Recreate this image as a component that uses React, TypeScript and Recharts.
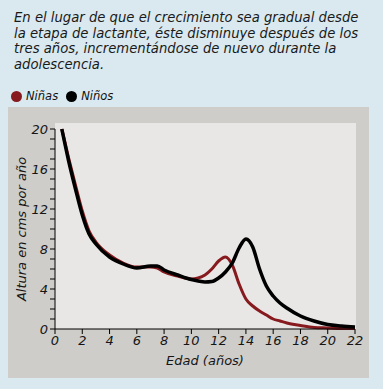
import { CartesianGrid, Line, LineChart, XAxis, YAxis } from "recharts"

const ages = [0.5, 1, 1.5, 2, 2.5, 3, 4, 5, 6, 7, 7.5, 8, 9, 10, 10.5, 11, 11.5, 12, 12.5, 13, 13.5, 14, 14.5, 15, 15.5, 16, 16.5, 17, 18, 19, 20, 21, 22]

const boys = [20, 16.8, 14.0, 11.4, 9.5, 8.5, 7.2, 6.5, 6.1, 6.3, 6.3, 5.9, 5.4, 4.95, 4.8, 4.7, 4.75, 5.1, 5.7, 6.6, 8.1, 9.0, 8.2, 6.0, 4.3, 3.3, 2.6, 2.1, 1.3, 0.8, 0.45, 0.3, 0.2]

const girls = [20, 17.1, 14.4, 11.8, 9.8, 8.7, 7.4, 6.6, 6.2, 6.2, 6.1, 5.7, 5.3, 5.0, 5.1, 5.4, 6.0, 6.8, 7.2, 6.4, 4.5, 3.0, 2.3, 1.8, 1.4, 1.0, 0.8, 0.6, 0.35, 0.15, 0.1, 0.05, 0.05]

const xTicks = [0, 2, 4, 6, 8, 10, 12, 14, 16, 18, 20, 22]
const yTicks = [0, 1, 2, 3, 4, 5, 6, 7, 8, 9, 10, 11, 12, 13, 14, 15, 16, 17, 18, 19, 20]

const data = ages.map((age, i) => ({ age, boys: boys[i], girls: girls[i] }))

const font = "'DejaVu Sans', Verdana, sans-serif"
const red = "#861a1e"

const YTick = (props: any) => {
  const { x, y, payload } = props
  if (payload.value % 4 !== 0) return <g />
  return (
    <text x={x} y={y} dy={5} textAnchor="end" fontSize={13} fontStyle="italic" fontFamily={font} fill="#151515">
      {payload.value}
    </text>
  )
}

export default function App() {
  return (
    <div style={{ position: "absolute", left: 0, top: 0, width: 383, height: 389, background: "#d9e9ef", overflow: "hidden" }}>
      <div
        style={{
          position: "absolute",
          left: 14,
          top: 10,
          width: 352,
          fontFamily: font,
          fontStyle: "italic",
          fontSize: 13.2,
          lineHeight: "15.5px",
          color: "#1a1a1a",
        }}
      >
        En el lugar de que el crecimiento sea gradual desde la etapa de lactante, éste disminuye después de los tres años, incrementándose de nuevo durante la adolescencia.
      </div>

      <div style={{ position: "absolute", left: 11, top: 89, display: "flex", alignItems: "center", fontFamily: font, fontStyle: "italic", fontSize: 11.5, color: "#111" }}>
        <span style={{ width: 11, height: 11, borderRadius: "50%", background: red, display: "inline-block", marginRight: 4 }} />
        <span style={{ marginRight: 8 }}>Niñas</span>
        <span style={{ width: 11, height: 11, borderRadius: "50%", background: "#000", display: "inline-block", marginRight: 4 }} />
        <span>Niños</span>
      </div>

      <div style={{ position: "absolute", left: 8, top: 107, width: 361, height: 271, background: "#cfcdc9" }} />
      <div style={{ position: "absolute", left: 55, top: 123, width: 301, height: 206, background: "#e9e7e5" }} />

      <div style={{ position: "absolute", left: 8, top: 107 }}>
        <LineChart width={361} height={271} data={data} margin={{ top: 22, right: 14, bottom: 0, left: 0 }}>
          <CartesianGrid stroke="none" />
          <XAxis
            dataKey="age"
            type="number"
            domain={[0, 22]}
            ticks={xTicks}
            height={49}
            interval={0}
            stroke="#000"
            tickSize={5}
            tick={{ fontSize: 13, fontStyle: "italic", fontFamily: font, fill: "#151515" }}
            label={{ value: "Edad (años)", position: "insideBottom", offset: 13, style: { fontSize: 13, fontStyle: "italic", fontFamily: font, fill: "#151515" } }}
          />
          <YAxis
            type="number"
            domain={[0, 20]}
            ticks={yTicks}
            interval={0}
            width={47}
            stroke="#000"
            tickSize={5}
            tick={<YTick />}
            label={{ value: "Altura en cms por año", angle: -90, position: "insideLeft", offset: 13, style: { textAnchor: "middle", fontSize: 13, fontStyle: "italic", fontFamily: font, fill: "#151515" } }}
          />
          <Line type="monotone" dataKey="girls" stroke={red} strokeWidth={3} dot={false} isAnimationActive={false} />
          <Line type="monotone" dataKey="boys" stroke="#000" strokeWidth={3.5} dot={false} isAnimationActive={false} />
        </LineChart>
      </div>
    </div>
  )
}
